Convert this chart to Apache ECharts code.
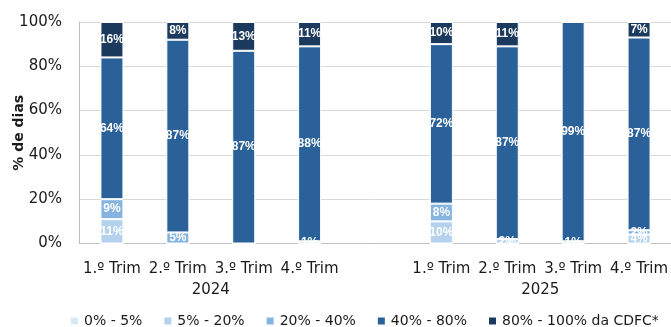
<!DOCTYPE html>
<html>
<head>
<meta charset="utf-8">
<script src="https://cdn.jsdelivr.net/npm/echarts@6/dist/echarts.min.js"></script>
<style>
  html, body { margin: 0; padding: 0; background: #fff; }
  #chart { width: 671px; height: 327px; }
</style>
</head>
<body>
<div id="chart"></div>
<script>
// quarters, with an empty slot between the two years
const quarters = ['1.º Trim', '2.º Trim', '3.º Trim', '4.º Trim', '', '1.º Trim', '2.º Trim', '3.º Trim', '4.º Trim']
const yearLabels = ['', '', '2024', '', '', '', '', '2025', '', '']
const yTicks = [0, 20, 40, 60, 80, 100]

const seriesNames = ['0% - 5%', '5% - 20%', '20% - 40%', '40% - 80%', '80% - 100% da CDFC*']
const colors = ['#DAE8F5', '#B4D2EE', '#85B4E0', '#2A6199', '#1C3A5E']

const band0to5 = [0, 0, 0, 0, null, 0, 0, 0, 0]
const band5to20 = [11, 0, 0, 1, null, 10, 2, 1, 4]
const band20to40 = [9, 5, 0, 0, null, 8, 0, 0, 2]
const band40to80 = [64, 87, 87, 88, null, 72, 87, 99, 87]
const band80to100 = [16, 8, 13, 11, null, 10, 11, 0, 7]

const bands = [band0to5, band5to20, band20to40, band40to80, band80to100]

const font = 'DejaVu Sans'

const chart = echarts.init(document.getElementById('chart'))

const option = {
  animation: false,
  textStyle: { fontFamily: font },
  grid: { left: 79, width: 593, top: 22, bottom: 83.5, containLabel: false, outerBoundsMode: 'none' },
  legend: {
    top: 309,
    left: 64,
    itemWidth: 9,
    itemHeight: 9,
    itemGap: 20,
    icon: 'rect',
    textStyle: { fontFamily: font, fontSize: 14, color: '#1a1a1a' },
    data: seriesNames
  },
  xAxis: [
    {
      type: 'category',
      data: quarters,
      axisLine: { lineStyle: { color: '#BFBFBF' } },
      axisTick: { show: false },
      axisLabel: { interval: 0, margin: 18, fontFamily: font, fontSize: 15, color: '#1a1a1a' }
    },
    {
      type: 'category',
      data: yearLabels,
      position: 'bottom',
      offset: 21,
      boundaryGap: false,
      axisLine: { show: false },
      axisTick: { show: false },
      axisLabel: { interval: 0, margin: 18, fontFamily: font, fontSize: 15, color: '#1a1a1a' }
    }
  ],
  yAxis: {
    type: 'value',
    min: 0,
    max: 100,
    interval: 20,
    name: '% de dias',
    nameLocation: 'middle',
    nameGap: 53,
    nameMoveOverlap: false,
    nameTextStyle: { fontFamily: font, fontSize: 14, fontWeight: 'bold', color: '#1a1a1a' },
    axisLine: { show: true, lineStyle: { color: '#BFBFBF' } },
    splitLine: { lineStyle: { color: '#D9D9D9' } },
    axisLabel: {
      margin: 17,
      fontFamily: font,
      fontSize: 15,
      color: '#1a1a1a',
      formatter: v => yTicks.includes(v) ? v + '%' : ''
    }
  },
  series: bands.map((vals, i) => ({
    name: seriesNames[i],
    type: 'bar',
    stack: 'total',
    barWidth: 23,
    data: vals,
    itemStyle: { color: colors[i], borderColor: '#fff', borderWidth: 1 },
    label: {
      show: true,
      position: 'inside',
      fontFamily: 'Liberation Sans',
      fontSize: 12,
      fontWeight: 'bold',
      color: '#fff',
      formatter: p => (p.value ? p.value + '%' : '')
    }
  }))
}

chart.setOption(option)
</script>
</body>
</html>
